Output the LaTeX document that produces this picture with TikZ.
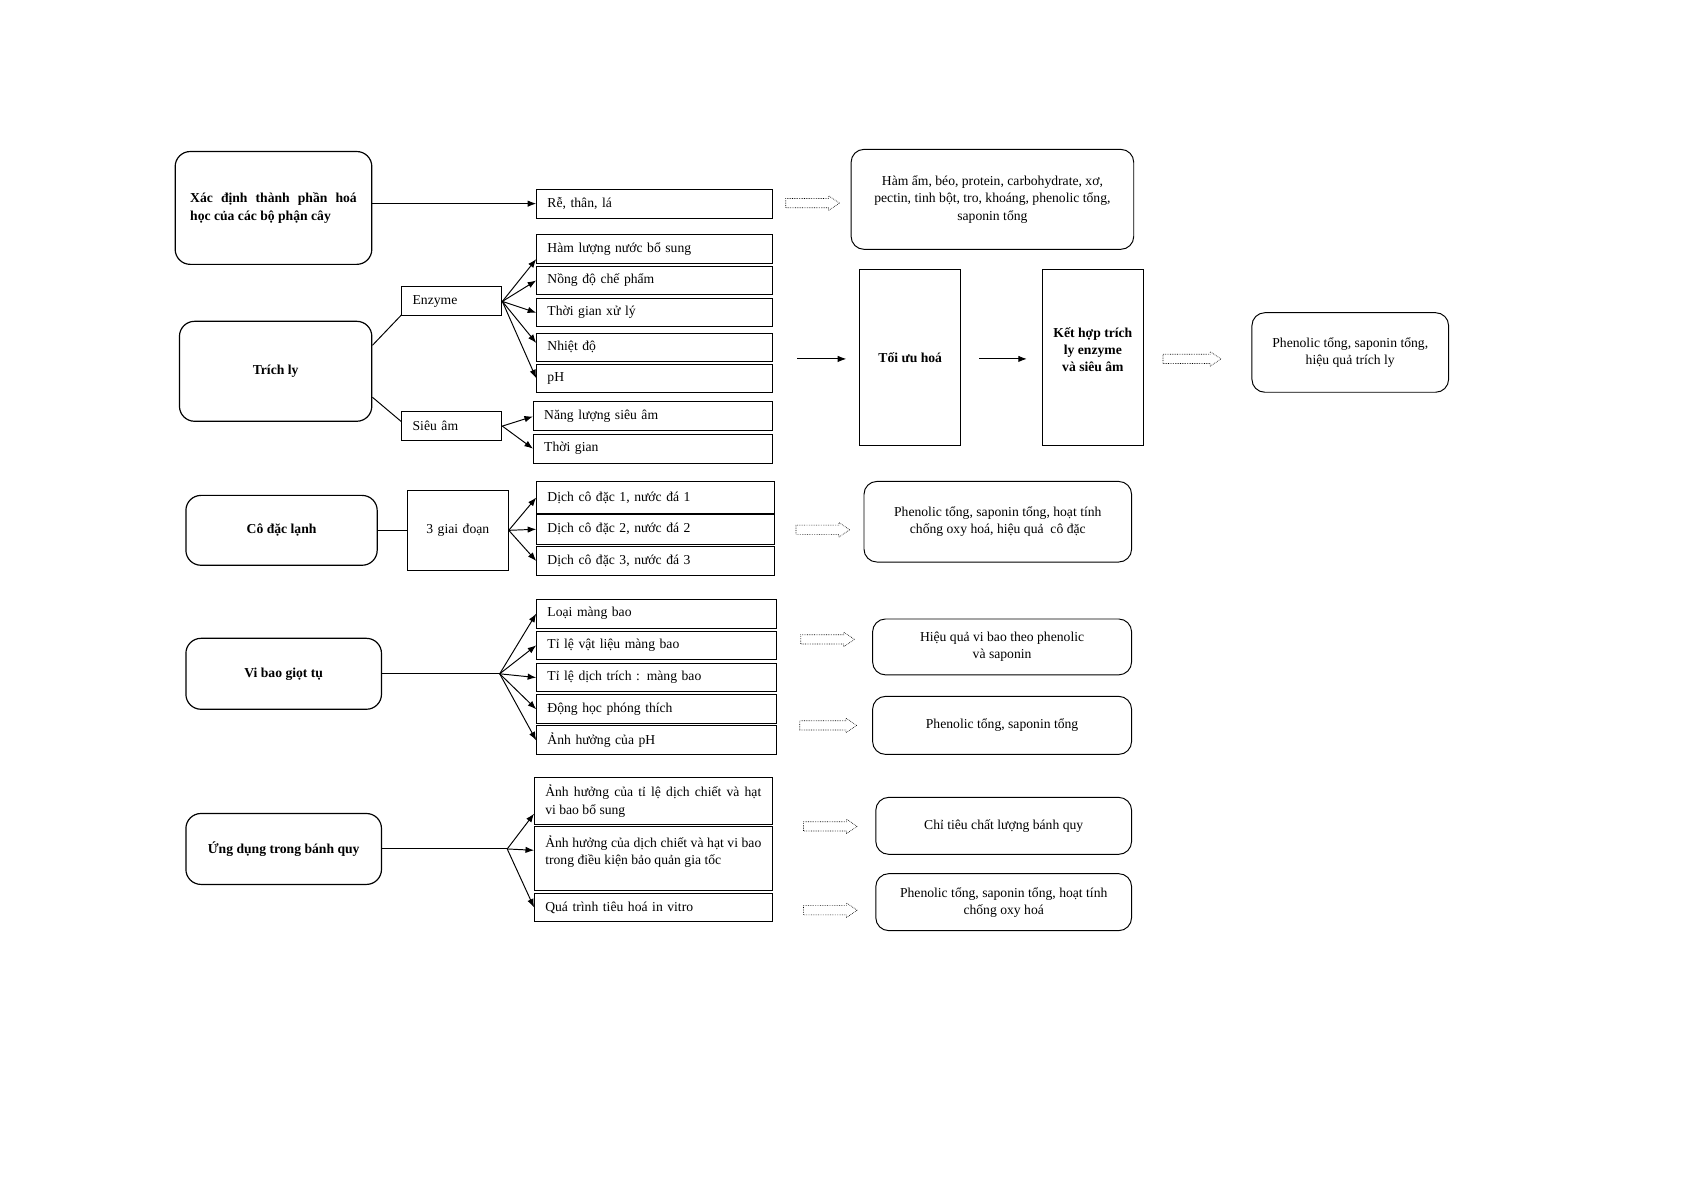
\documentclass[tikz,border=0pt]{standalone}
\usepackage{fontspec}
\setmainfont{Liberation Serif}
\usetikzlibrary{arrows.meta,shapes.arrows}
\newcommand{\diagfont}{\fontsize{12.7pt}{16pt}\selectfont}
\tikzstyle{mainbox}=[draw, rounded corners=14pt, line width=1.1pt, align=center, font=\diagfont\bfseries]
\tikzstyle{subbox}=[draw, line width=0.9pt, minimum height=27pt, inner xsep=10pt, text width=73pt, align=left, font=\diagfont]
\tikzstyle{itembox}=[draw, line width=0.9pt, anchor=west, minimum height=27pt, inner xsep=10pt, text width=199pt, align=left, font=\diagfont]
\tikzstyle{result}=[draw, rounded corners=12pt, line width=0.9pt, align=center, font=\diagfont]
\tikzstyle{tallbox}=[draw, line width=0.9pt, minimum width=94pt, minimum height=164pt, align=center, font=\diagfont\bfseries]
\tikzstyle{hollow}=[single arrow, draw, densely dotted, line width=0.6pt, minimum height=50pt, minimum width=13pt, single arrow head extend=2.5pt, single arrow tip angle=68, inner xsep=0pt, inner ysep=4pt]
\tikzstyle{arr}=[line width=0.9pt, -{Latex[length=8pt,width=6pt]}]
\tikzstyle{link}=[line width=0.9pt]

\begin{document}
\begin{tikzpicture}[x=1pt,y=-1pt]
\useasboundingbox (0,0) rectangle (1568,1109);

\draw (254.5,193.5) node[mainbox, minimum width=183pt, minimum height=105pt, text width=155pt, align=justify] (xacdinh) {Xác định thành phần hoá\linebreak học của các bộ phận cây};
\draw (256.5,345.5) node[mainbox, minimum width=179pt, minimum height=93pt] (trichly) {Trích ly};
\draw (262,493.5) node[mainbox, minimum width=178pt, minimum height=65pt] (codac) {Cô đặc lạnh};
\draw (264,627) node[mainbox, minimum width=182pt, minimum height=66pt] (vibao) {Vi bao giọt tụ};
\draw (264,790) node[mainbox, minimum width=182pt, minimum height=66pt] (ungdung) {Ứng dụng trong bánh quy};

\draw (420.5,280.5) node[subbox] (enzyme) {Enzyme};
\draw (420.5,396.5) node[subbox] (sieuam) {Siêu âm};
\draw (426,493.5) node[subbox, text width=74pt, minimum height=75pt, align=center] (giaidoan) {3 giai đoạn};

\draw (499,189.5) node[itembox] (re) {Rễ, thân, lá};
\draw (499,231.5) node[itembox] (hamluong) {Hàm lượng nước bổ sung};
\draw (499,261) node[itembox, minimum height=26pt] (nongdo) {Nồng độ chế phẩm};
\draw (499,291) node[itembox, minimum height=26pt] (thoigianxl) {Thời gian xử lý};
\draw (499,323) node[itembox, minimum height=26pt] (nhietdo) {Nhiệt độ};
\draw (499,352) node[itembox, minimum height=26pt] (ph) {pH};
\draw (496,387.5) node[itembox, text width=202pt] (nangluong) {Năng lượng siêu âm};
\draw (496,417.5) node[itembox, text width=202pt] (thoigian) {Thời gian};

\draw (499,463) node[itembox, text width=201pt, minimum height=29pt] (dich1) {Dịch cô đặc 1, nước đá 1};
\draw (499,492.5) node[itembox, text width=201pt, minimum height=28pt] (dich2) {Dịch cô đặc 2, nước đá 2};
\draw (499,522) node[itembox, text width=201pt] (dich3) {Dịch cô đặc 3, nước đá 3};

\draw (499,571) node[itembox, text width=203pt] (loai) {Loại màng bao};
\draw (499,600.5) node[itembox, text width=203pt, minimum height=26pt] (tile1) {Tỉ lệ vật liệu màng bao};
\draw (499,630.5) node[itembox, text width=203pt, minimum height=26pt] (tile2) {Tỉ lệ dịch trích : màng bao};
\draw (499,660) node[itembox, text width=203pt] (donghoc) {Động học phóng thích};
\draw (499,689) node[itembox, text width=203pt] (anhhuongph) {Ảnh hưởng của pH};

\draw (497,745.5) node[itembox, text width=201pt, minimum height=44pt, align=justify] (ud1) {Ảnh hưởng của tỉ lệ dịch chiết và hạt\linebreak vi bao bổ sung};
\draw (497,799) node[itembox, text width=201pt, minimum height=59pt, align=justify] (ud2) {Ảnh hưởng của dịch chiết và hạt vi bao\linebreak trong điều kiện bảo quản gia tốc\\ \mbox{}};
\draw (497,844.5) node[itembox, text width=201pt, minimum height=26pt] (ud3) {Quá trình tiêu hoá in vitro};

\draw (923.5,185.5) node[result, minimum width=263pt, minimum height=93pt] (hamam) {Hàm ẩm, béo, protein, carbohydrate, xơ,\\pectin, tinh bột, tro, khoáng, phenolic tổng,\\saponin tổng};
\draw (1256.5,328) node[result, minimum width=183pt, minimum height=74pt] (kqtrichly) {Phenolic tổng, saponin tổng,\\hiệu quả trích ly};
\draw (928.5,485.5) node[result, minimum width=249pt, minimum height=75pt] (kqcodac) {Phenolic tổng, saponin tổng, hoạt tính\\chống oxy hoá, hiệu quả \ cô đặc};
\draw (932.5,602) node[result, minimum width=241pt, minimum height=52pt] (kqvibao) {Hiệu quả vi bao theo phenolic\\và saponin};
\draw (932.5,675) node[result, minimum width=241pt, minimum height=54pt] (kqphenolic) {Phenolic tổng, saponin tổng};
\draw (934,768.5) node[result, minimum width=238pt, minimum height=53pt] (kqchitieu) {Chỉ tiêu chất lượng bánh quy};
\draw (934,839.5) node[result, minimum width=238pt, minimum height=53pt] (kqtieuhoa) {Phenolic tổng, saponin tổng, hoạt tính\\chống oxy hoá};

\draw (847,333) node[tallbox] (toiuu) {Tối ưu hoá};
\draw (1017,333) node[tallbox] (kethop) {Kết hợp trích\\ly enzyme\\và siêu âm\\ \mbox{}};

\draw (753,189) node[hollow] (hre) {};
\draw (1106,334) node[hollow, minimum height=54pt] (hkethop) {};
\draw (762.5,493) node[hollow] (hcodac) {};
\draw (767,595) node[hollow] (hvibao) {};
\draw (767.5,675) node[hollow, minimum height=53pt] (hphenolic) {};
\draw (769.5,769) node[hollow] (hchitieu) {};
\draw (769.5,847) node[hollow] (htieuhoa) {};

\draw[arr] (xacdinh.east |- re.west) -- (re.west);
\draw[link] (trichly.15) -- (enzyme.195);
\draw[link] (trichly.-15) -- (sieuam.175);
\foreach \b in {hamluong.185,nongdo.west,thoigianxl.west,nhietdo.178,ph.west}
  \draw[arr] (enzyme.east) -- (\b);
\foreach \b in {nangluong,thoigian}
  \draw[arr] (sieuam.east) -- (\b.west);
\draw[link] (codac) -- (giaidoan);
\foreach \b in {dich1,dich2,dich3}
  \draw[arr] (giaidoan.east) -- (\b.west);
\coordinate (vbfan) at (465,627);
\draw[link] (vibao.east) -- (vbfan);
\foreach \b in {loai,tile1,tile2,donghoc,anhhuongph}
  \draw[arr] (vbfan) -- (\b.west);
\coordinate (udfan) at (472,790);
\draw[link] (ungdung.east) -- (udfan);
\draw[arr] (udfan) -- (ud1.186);
\draw[arr] (udfan) -- (ud2.176);
\draw[arr] (udfan) -- (ud3.west);
\coordinate (vaotoiuu) at (742,334);
\draw[arr, shorten >=12pt] (vaotoiuu) -- (toiuu.west |- vaotoiuu);
\draw[arr, shorten <=17pt, shorten >=14pt] (toiuu.east |- vaotoiuu) -- (kethop.west |- vaotoiuu);
\end{tikzpicture}
\end{document}
